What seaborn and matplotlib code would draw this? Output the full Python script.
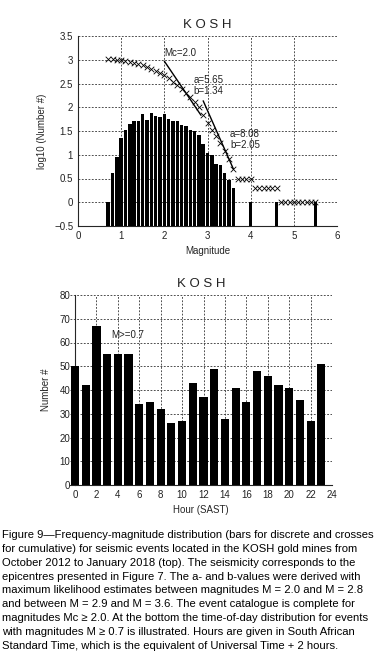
import matplotlib
matplotlib.use('Agg')
import matplotlib.pyplot as plt
import seaborn as sns
import pandas as pd
import numpy as np

# 离散震级分布 (log10 个数)
mag_bins = [0.7, 0.8, 0.9, 1.0, 1.1, 1.2, 1.3, 1.4, 1.5, 1.6,
            1.7, 1.8, 1.9, 2.0, 2.1, 2.2, 2.3, 2.4, 2.5, 2.6,
            2.7, 2.8, 2.9, 3.0, 3.1, 3.2, 3.3, 3.4, 3.5, 3.6,
            4.0, 4.6, 5.5]
log_n_discrete = [0.00, 0.61, 0.96, 1.35, 1.52, 1.65, 1.70, 1.71, 1.85, 1.74,
                  1.88, 1.82, 1.80, 1.86, 1.75, 1.70, 1.70, 1.62, 1.60, 1.53,
                  1.50, 1.42, 1.22, 1.04, 1.00, 0.80, 0.78, 0.61, 0.47, 0.30,
                  0.00, 0.00, 0.00]

# 累积分布 (crosses)
mag_cum = [0.7, 0.8, 0.9, 1.0, 1.1, 1.2, 1.3, 1.4, 1.5, 1.6,
           1.7, 1.8, 1.9, 2.0, 2.1, 2.2, 2.3, 2.4, 2.5, 2.6,
           2.7, 2.8, 2.9, 3.0, 3.1, 3.2, 3.3, 3.4, 3.5, 3.6,
           3.7, 3.8, 3.9, 4.0, 4.1, 4.2, 4.3, 4.4, 4.5, 4.6,
           4.7, 4.8, 4.9, 5.0, 5.1, 5.2, 5.3, 5.4, 5.5]
log_n_cum = [3.01, 3.01, 3.00, 2.99, 2.98, 2.96, 2.94, 2.91, 2.88, 2.85,
             2.81, 2.77, 2.72, 2.67, 2.61, 2.54, 2.47, 2.39, 2.30, 2.21,
             2.11, 2.00, 1.84, 1.67, 1.53, 1.39, 1.24, 1.07, 0.91, 0.70,
             0.48, 0.48, 0.48, 0.48, 0.30, 0.30, 0.30, 0.30, 0.30, 0.30,
             0.00, 0.00, 0.00, 0.00, 0.00, 0.00, 0.00, 0.00, 0.00]

# 拟合参数
fit1_a, fit1_b, fit1_range = 5.65, 1.34, [2.0, 2.85]
fit2_a, fit2_b, fit2_range = 8.08, 2.05, [2.9, 3.6]

# 每小时事件数
hours = list(range(24))
hour_counts = [50, 42, 67, 55, 55, 55, 34, 35, 32, 26, 27, 43,
               37, 49, 28, 41, 35, 48, 46, 42, 41, 36, 27, 51]

caption_lines = [
    "Figure 9\u2014Frequency-magnitude distribution (bars for discrete and crosses",
    "for cumulative) for seismic events located in the KOSH gold mines from",
    "October 2012 to January 2018 (top). The seismicity corresponds to the",
    "epicentres presented in Figure 7. The a- and b-values were derived with",
    "maximum likelihood estimates between magnitudes M = 2.0 and M = 2.8",
    "and between M = 2.9 and M = 3.6. The event catalogue is complete for",
    "magnitudes Mc \u2265 2.0. At the bottom the time-of-day distribution for events",
    "with magnitudes M \u2265 0.7 is illustrated. Hours are given in South African",
    "Standard Time, which is the equivalent of Universal Time + 2 hours.",
]

sns.set_style('white')
plt.rcParams['font.family'] = ['Liberation Sans', 'DejaVu Sans']
plt.rcParams['axes.linewidth'] = 0.8
plt.rcParams['xtick.color'] = '#222222'
plt.rcParams['ytick.color'] = '#222222'

grid_kw = dict(color='#333333', linestyle=(0, (2.2, 1.8)), linewidth=0.6)
tick_fs = 7
label_fs = 7

fig = plt.figure(figsize=(3.8, 6.58), dpi=100)

# ---------------- 上图：震级-频度 ----------------
ax1 = fig.add_axes([78 / 380, 1 - 226 / 658, 259 / 380, 190 / 658])
ax1.bar(mag_bins, np.array(log_n_discrete) + 0.5, bottom=-0.5,
        width=0.08, color='black', linewidth=0, zorder=3)

df_cum = pd.DataFrame({'mag': mag_cum, 'logn': log_n_cum})
sns.scatterplot(data=df_cum, x='mag', y='logn', marker='x', color='black',
                s=16, linewidth=0.6, ax=ax1, zorder=4)

for a, b, rng in [(fit1_a, fit1_b, fit1_range), (fit2_a, fit2_b, fit2_range)]:
    xs = np.array(rng)
    sns.lineplot(x=xs, y=a - b * xs, color='black', linewidth=1.0, ax=ax1, zorder=5)

ax1.text(2.0, 3.08, 'Mc=2.0', fontsize=tick_fs, color='#222222', zorder=6)
ax1.text(2.67, 2.52, 'a=5.65', fontsize=tick_fs, color='#222222', zorder=6)
ax1.text(2.67, 2.28, 'b=1.34', fontsize=tick_fs, color='#222222', zorder=6)
ax1.text(3.52, 1.37, 'a=8.08', fontsize=tick_fs, color='#222222', zorder=6)
ax1.text(3.52, 1.14, 'b=2.05', fontsize=tick_fs, color='#222222', zorder=6)

ax1.set_xlim(0, 6)
ax1.set_ylim(-0.5, 3.5)
ax1.set_xticks(range(7))
ax1.set_yticks(np.arange(-0.5, 3.51, 0.5))
ax1.set_yticklabels(['\u22120.5', '0', '0.5', '1', '1.5', '2', '2.5', '3', '3.5'])
ax1.set_xticks(np.arange(0.5, 6, 1), minor=True)
ax1.set_yticks(np.arange(-0.5, 3.51, 0.1), minor=True)
ax1.grid(True, which='major', **grid_kw)
ax1.set_axisbelow(True)
for s in ['top', 'right']:
    ax1.spines[s].set_visible(False)
ax1.tick_params(axis='both', labelsize=tick_fs, length=4, width=0.6, direction='inout', pad=1.5)
ax1.tick_params(which='minor', length=2, width=0.6, direction='in')
ax1.set_xlabel('Magnitude', fontsize=label_fs, labelpad=4)
ax1.set_ylabel('log10 (Number #)', fontsize=label_fs, labelpad=5)
ax1.set_title('K O S H', fontsize=9.5, pad=6, color='#222222')

# ---------------- 下图：每小时分布 ----------------
ax2 = fig.add_axes([70.2 / 380, 1 - 485 / 658, 261.8 / 380, 190 / 658])
df_hour = pd.DataFrame({'hour': hours, 'count': hour_counts})
sns.barplot(data=df_hour, x='hour', y='count', native_scale=True,
            color='black', saturation=1, width=0.76, linewidth=0, ax=ax2, zorder=3)

ax2.text(3.4, 62, 'M>=0.7', fontsize=tick_fs, color='#222222', zorder=6)

ax2.set_xlim(-0.45, 24)
ax2.set_ylim(0, 80)
ax2.spines['left'].set_position(('data', 0))
ax2.set_xticks(range(0, 25, 2))
ax2.set_xticks(range(1, 24, 2), minor=True)
ax2.set_yticks(range(0, 81, 10))
ax2.set_yticks(range(5, 80, 10), minor=True)
ax2.grid(True, which='major', **grid_kw)
ax2.set_axisbelow(True)
for s in ['top', 'right']:
    ax2.spines[s].set_visible(False)
ax2.tick_params(axis='both', labelsize=tick_fs, length=4, width=0.6, direction='inout', pad=1.5)
ax2.tick_params(which='minor', length=2, width=0.6, direction='in')
ax2.set_xlabel('Hour (SAST)', fontsize=label_fs, labelpad=4)
ax2.set_ylabel('Number #', fontsize=label_fs)
ax2.yaxis.set_label_coords(-0.075, 0.5)
ax2.set_title('K O S H', fontsize=9.5, pad=6, color='#222222')

# ---------------- 图注 ----------------
fig.text(0.006, 1 - 530 / 658, '\n'.join(caption_lines), fontsize=8.1,
         color='black', va='top', ha='left', linespacing=1.48)

fig.savefig('out.png', dpi=100)
